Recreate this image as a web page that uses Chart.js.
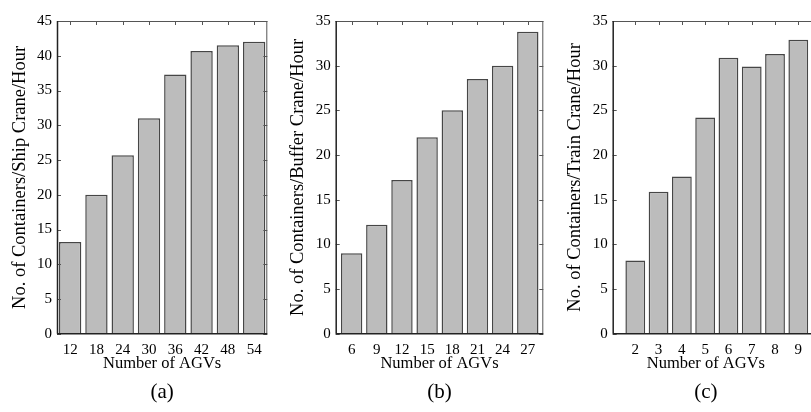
<!DOCTYPE html>
<html>
<head>
<meta charset="utf-8">
<script src="https://cdn.jsdelivr.net/npm/chart.js@4/dist/chart.umd.min.js"></script>
<style>
  html, body { margin: 0; padding: 0; background: #fff; overflow: hidden; }
  #wrap { position: relative; width: 811px; height: 412px; overflow: hidden; }
  canvas { position: absolute; top: 0; }
</style>
</head>
<body>
<div id="wrap">
  <canvas id="chartA" width="280" height="412" style="left:0px"></canvas>
  <canvas id="chartB" width="290" height="412" style="left:270px"></canvas>
  <canvas id="chartC" width="271" height="412" style="left:540px"></canvas>
</div>
<script>
// (a) ship crane
var agvsA = [12, 18, 24, 30, 36, 42, 48, 54];
var shipRate = [13.2, 20.0, 25.7, 31.0, 37.3, 40.7, 41.5, 42.0];
// (b) buffer crane
var agvsB = [6, 9, 12, 15, 18, 21, 24, 27];
var bufferRate = [9.0, 12.2, 17.2, 22.0, 25.0, 28.5, 30.0, 33.8];
// (c) train crane
var agvsC = [2, 3, 4, 5, 6, 7, 8, 9];
var trainRate = [8.2, 15.9, 17.6, 24.2, 30.9, 29.9, 31.3, 32.9];

var serif = "'Liberation Serif', 'DejaVu Serif', serif";

// gnuplot style box with inward ticks
var frameTicks = {
  id: 'frameTicks',
  afterDatasetsDraw: function(chart, args, opts) {
    var ctx = chart.ctx, a = chart.chartArea;
    var x = chart.scales.x, y = chart.scales.y;
    var right = opts.openRight ? chart.width : a.right;
    ctx.save();
    ctx.strokeStyle = '#555';
    ctx.lineWidth = 1;
    ctx.beginPath();
    ctx.moveTo(a.left, a.top + 0.5); ctx.lineTo(right, a.top + 0.5);
    if (!opts.openRight) {
      ctx.moveTo(a.right - 0.5, a.top); ctx.lineTo(a.right - 0.5, a.bottom);
    }
    y.ticks.forEach(function(t) {
      var py = Math.round(y.getPixelForValue(t.value)) + 0.5;
      ctx.moveTo(a.left, py); ctx.lineTo(a.left + 4, py);
      if (!opts.openRight) { ctx.moveTo(a.right, py); ctx.lineTo(a.right - 4, py); }
    });
    x.ticks.forEach(function(t) {
      var px = Math.round(x.getPixelForValue(t.value)) + 0.5;
      ctx.moveTo(px, a.top); ctx.lineTo(px, a.top + 4);
    });
    ctx.stroke();
    ctx.strokeStyle = '#222';
    ctx.lineWidth = 1.5;
    ctx.beginPath();
    ctx.moveTo(a.left, a.bottom); ctx.lineTo(right, a.bottom);
    ctx.moveTo(a.left + 0.5, a.top); ctx.lineTo(a.left + 0.5, a.bottom);
    ctx.stroke();
    ctx.restore();
  }
};

function makePanel(id, xs, ys, p) {
  var pts = [];
  for (var i = 0; i < xs.length; i++) pts.push({x: xs[i], y: ys[i]});
  return new Chart(document.getElementById(id), {
    type: 'bar',
    data: {
      datasets: [{
        data: pts,
        backgroundColor: '#bcbcbc',
        borderColor: '#464646',
        borderWidth: 1.5,
        categoryPercentage: 1,
        barPercentage: 0.85,
        clip: false
      }]
    },
    options: {
      responsive: false,
      animation: false,
      layout: { padding: { left: 0, right: p.padRight, top: 21, bottom: 0 } },
      plugins: {
        legend: { display: false },
        tooltip: { enabled: false },
        frameTicks: { openRight: !!p.openRight },
        title: {
          display: true,
          text: p.caption,
          position: 'bottom',
          fullSize: false,
          color: '#000',
          font: { family: serif, size: 21, weight: 'normal' },
          padding: { top: 6, bottom: 7 }
        }
      },
      scales: {
        x: {
          type: 'linear',
          offset: false,
          min: p.xMin,
          max: p.xMax,
          grid: { display: false, drawTicks: false },
          border: { display: false },
          afterBuildTicks: function(s) { s.ticks = xs.map(function(v) { return {value: v}; }); },
          afterFit: function(s) { s.height = 40; },
          ticks: { color: '#000', padding: 7, font: { family: serif, size: 15 } },
          title: {
            display: true, text: 'Number of AGVs', color: '#000',
            font: { family: serif, size: 16.5 }, padding: { top: 0, bottom: 0 }
          }
        },
        y: {
          min: 0,
          max: p.yMax,
          ticks: { stepSize: 5, color: '#000', padding: 5, font: { family: serif, size: 15 } },
          grid: { display: false, drawTicks: false },
          border: { display: false },
          afterFit: function(s) { s.width = p.yWidth; },
          title: {
            display: true, text: p.yTitle, color: '#000',
            font: { family: serif, size: 18.5 }, padding: { top: p.titlePad, bottom: 0 }
          }
        }
      }
    },
    plugins: [frameTicks]
  });
}

makePanel('chartA', agvsA, shipRate, {
  caption: '(a)', yTitle: 'No. of Containers/Ship Crane/Hour',
  xMin: 9, xMax: 57, yMax: 45, yWidth: 57, padRight: 12.7, titlePad: 9
});
makePanel('chartB', agvsB, bufferRate, {
  caption: '(b)', yTitle: 'No. of Containers/Buffer Crane/Hour',
  xMin: 4.1, xMax: 28.85, yMax: 35, yWidth: 65.7, padRight: 16.7, titlePad: 17
});
// (c) is cut off at the right edge of the figure
makePanel('chartC', agvsC, trainRate, {
  caption: '(c)', yTitle: 'No. of Containers/Train Crane/Hour',
  xMin: 1.03, xMax: 9.03, yMax: 35, yWidth: 72.7, padRight: 12, titlePad: 24,
  openRight: true
});
</script>
</body>
</html>
